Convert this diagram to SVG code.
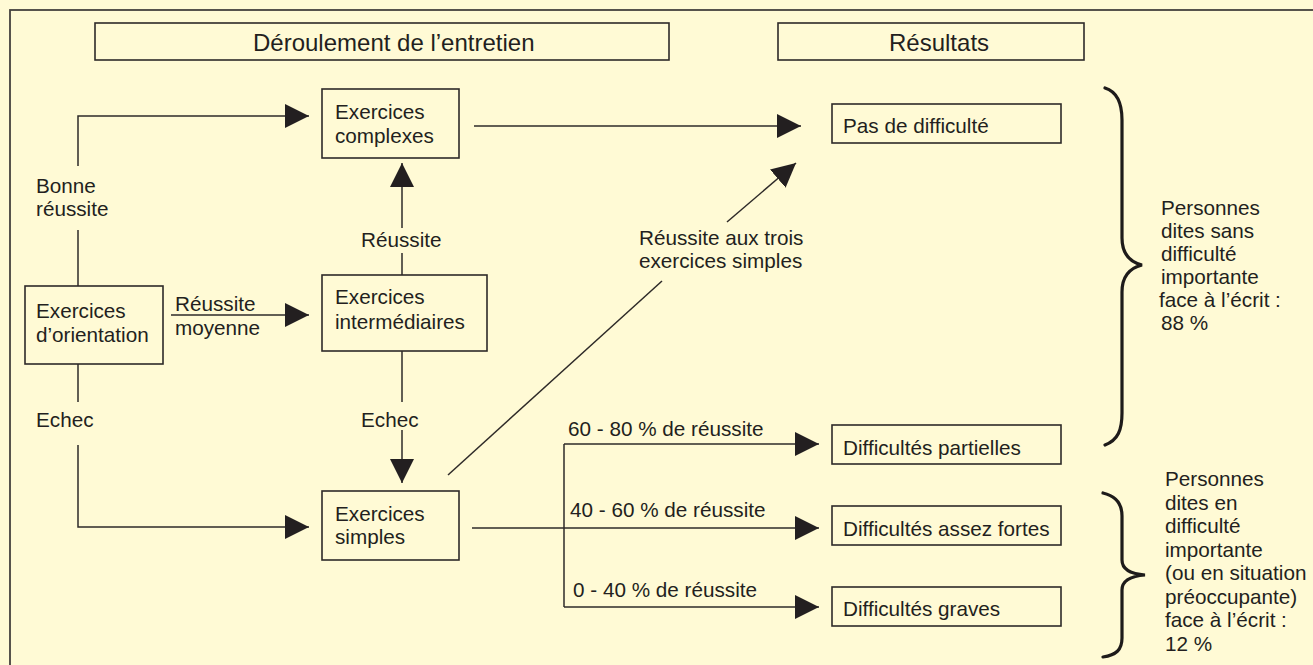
<svg xmlns="http://www.w3.org/2000/svg" width="1313" height="665" viewBox="0 0 1313 665">
<defs>
<style>
text{font-family:"Liberation Sans",Arial,sans-serif;fill:#231f20;font-size:20.7px}
.h{font-size:24px}
.box{fill:none;stroke:#2e2a28;stroke-width:1.6}
.ln{fill:none;stroke:#2e2a28;stroke-width:1.5}
.br{fill:none;stroke:#1e1b1a;stroke-width:3.2;stroke-linecap:round}
</style>
<marker id="ah" markerUnits="userSpaceOnUse" viewBox="0 0 24 24" refX="24" refY="12" markerWidth="24" markerHeight="24" orient="auto">
<path d="M0,0 L24,12 L0,24 z" fill="#231f20"/>
</marker>
</defs>
<rect x="0" y="0" width="1313" height="665" fill="#fffad5"/>
<rect x="10" y="10" width="1320" height="680" fill="none" stroke="#45413e" stroke-width="1.8"/>

<g id="header-deroulement"><rect class="box" x="95" y="23" width="574" height="37"/><text class="h" x="253" y="51">Déroulement de l’entretien</text></g>
<g id="header-resultats"><rect class="box" x="778" y="23" width="306" height="37"/><text class="h" x="889" y="51">Résultats</text></g>

<g id="connectors">
<polyline class="ln" points="78,166 78,116 309,116" marker-end="url(#ah)"/>
<line class="ln" x1="78" y1="230" x2="78" y2="286"/>
<line class="ln" x1="78" y1="364" x2="78" y2="402"/>
<polyline class="ln" points="78,445 78,527 309,527" marker-end="url(#ah)"/>
<line class="ln" x1="171" y1="315" x2="309" y2="315" marker-end="url(#ah)"/>
<line class="ln" x1="402" y1="228" x2="402" y2="163" marker-end="url(#ah)"/>
<line class="ln" x1="402" y1="253" x2="402" y2="275"/>
<line class="ln" x1="402" y1="351" x2="402" y2="402"/>
<line class="ln" x1="402" y1="430" x2="402" y2="483" marker-end="url(#ah)"/>
<line class="ln" x1="474" y1="126" x2="801" y2="126" marker-end="url(#ah)"/>
<line class="ln" x1="448" y1="475" x2="662" y2="281"/>
<line class="ln" x1="727" y1="222" x2="796" y2="163" marker-end="url(#ah)"/>
<line class="ln" x1="472" y1="528" x2="819" y2="528" marker-end="url(#ah)"/>
<line class="ln" x1="564" y1="444" x2="564" y2="607"/>
<line class="ln" x1="564" y1="444" x2="819" y2="444" marker-end="url(#ah)"/>
<line class="ln" x1="564" y1="607" x2="819" y2="607" marker-end="url(#ah)"/>
</g>

<g id="labels">
<text x="36" y="193">Bonne</text><text x="36" y="216">réussite</text>
<text x="175" y="311">Réussite</text><text x="175" y="335">moyenne</text>
<text x="36" y="427">Echec</text>
<text x="361" y="247">Réussite</text>
<text x="361" y="427">Echec</text>
<text x="639" y="245">Réussite aux trois</text><text x="639" y="268">exercices simples</text>
<text x="568" y="436">60 - 80 % de réussite</text>
<text x="570" y="517">40 - 60 % de réussite</text>
<text x="573" y="597">0 - 40 % de réussite</text>
</g>

<g id="node-orientation"><rect class="box" x="25" y="286" width="138" height="78"/><text x="36" y="318">Exercices</text><text x="36" y="342">d’orientation</text></g>
<g id="node-complexes"><rect class="box" x="322" y="89" width="137" height="69"/><text x="335" y="119">Exercices</text><text x="335" y="143">complexes</text></g>
<g id="node-intermediaires"><rect class="box" x="322" y="275" width="165" height="76"/><text x="335" y="304">Exercices</text><text x="335" y="329">intermédiaires</text></g>
<g id="node-simples"><rect class="box" x="322" y="491" width="137" height="69"/><text x="335" y="521">Exercices</text><text x="335" y="544">simples</text></g>

<g id="node-pas-difficulte"><rect class="box" x="832" y="104" width="229" height="39"/><text x="843" y="133">Pas de difficulté</text></g>
<g id="node-partielles"><rect class="box" x="832" y="425" width="229" height="39"/><text x="843" y="455">Difficultés partielles</text></g>
<g id="node-assez-fortes"><rect class="box" x="832" y="506" width="229" height="39"/><text x="843" y="536">Difficultés assez fortes</text></g>
<g id="node-graves"><rect class="box" x="832" y="587" width="229" height="39"/><text x="843" y="616">Difficultés graves</text></g>

<g id="brace-sans">
<path class="br" d="M1105,88 C1118,92 1122,104 1122,120 L1122,238 C1122,254 1130,262 1142,265 C1130,268 1122,276 1122,292 L1122,413 C1122,430 1118,440 1105,445"/>
<text x="1161" y="215">Personnes</text>
<text x="1161" y="238">dites sans</text>
<text x="1161" y="261">difficulté</text>
<text x="1161" y="284">importante</text>
<text x="1159" y="307">face à l’écrit :</text>
<text x="1161" y="330">88 %</text>
</g>
<g id="brace-difficulte">
<path class="br" d="M1103,493 C1116,496 1122,504 1122,516 L1122,560 C1122,570 1132,574 1145,575 C1132,576 1122,580 1122,590 L1122,638 C1122,650 1116,655 1103,657"/>
<text x="1165" y="486">Personnes</text>
<text x="1165" y="509.5">dites en</text>
<text x="1165" y="533">difficulté</text>
<text x="1165" y="556.5">importante</text>
<text x="1165" y="580">(ou en situation</text>
<text x="1165" y="603.5">préoccupante)</text>
<text x="1165" y="627">face à l’écrit :</text>
<text x="1165" y="650.5">12 %</text>
</g>
</svg>
